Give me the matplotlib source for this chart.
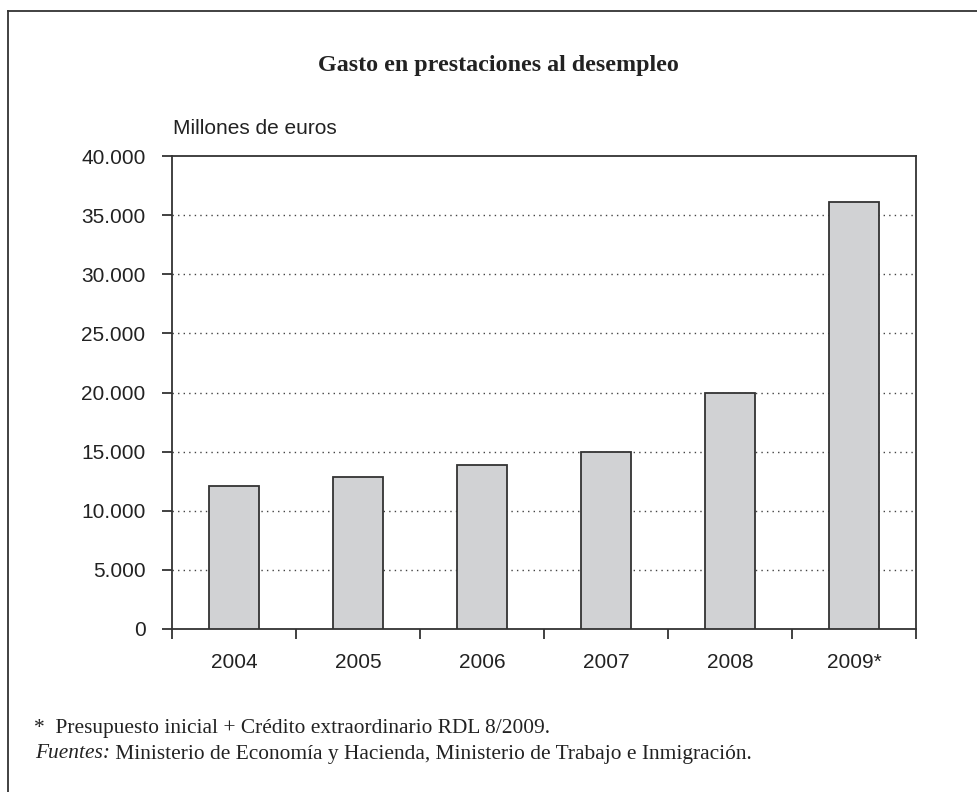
import matplotlib
matplotlib.use("Agg")
import matplotlib.pyplot as plt
from matplotlib.lines import Line2D
from matplotlib.ticker import FuncFormatter
import numpy as np

categories = ["2004", "2005", "2006", "2007", "2008", "2009*"]
values = [12100, 12850, 13850, 14950, 20000, 36100]
ytick_values = [0, 5000, 10000, 15000, 20000, 25000, 30000, 35000, 40000]

title = "Gasto en prestaciones al desempleo"
unit_label = "Millones de euros"
note1 = "*  Presupuesto inicial + Crédito extraordinario RDL 8/2009."
note2_italic = "Fuentes:"
note2_rest = " Ministerio de Economía y Hacienda, Ministerio de Trabajo e Inmigración."

W, H = 977, 792
fig = plt.figure(figsize=(W / 100, H / 100), dpi=100)
fig.patch.set_facecolor("white")

axc = "#333333"
ax = fig.add_axes([172 / W, 1 - 629 / H, (916 - 172) / W, (629 - 156) / H])
x = np.arange(len(categories))
ax.bar(x, values, width=0.4, color="#d1d2d4", edgecolor=axc, linewidth=1.3, zorder=3)
ax.set_xlim(-0.5, len(categories) - 0.5)
ax.set_ylim(0, 40000)
ax.set_yticks(ytick_values)
ax.yaxis.set_major_formatter(FuncFormatter(lambda v, p: f"{int(v):,}".replace(",", ".")))
ax.set_xticks(x)
ax.set_xticklabels(categories)
ax.set_xticks(np.arange(-0.5, len(categories)), minor=True)
ax.tick_params(axis="x", which="major", length=0, pad=17, labelsize=15, labelcolor="#222222")
ax.tick_params(axis="x", which="minor", length=7, width=1.3, color=axc, direction="out")
ax.tick_params(axis="y", length=7, width=1.3, color=axc, direction="out", pad=12,
               labelsize=15, labelcolor="#222222")
for lab in ax.get_xticklabels() + ax.get_yticklabels():
    lab.set_family("Liberation Sans")
for s in ax.spines.values():
    s.set_color(axc)
    s.set_linewidth(1.3)
for v in ytick_values[1:-1]:
    ax.axhline(v, color="#444444", linestyle=(0, (1, 3)), linewidth=1.0, zorder=1)

fig.text(498 / W, 1 - 65 / H, title, ha="center", va="center", fontsize=17.3,
         fontweight="bold", family="Liberation Serif", color="#222222")
fig.text(173 / W, 1 - 129 / H, unit_label, ha="left", va="center", fontsize=15,
         family="Liberation Sans", color="#222222")
fig.text(34 / W, 1 - 728 / H, note1, ha="left", va="center", fontsize=15.4,
         family="Liberation Serif", color="#222222")
t = fig.text(35 / W, 1 - 754 / H, note2_italic, ha="left", va="center", fontsize=15.4,
             family="Liberation Serif", style="italic", color="#222222")
fig.canvas.draw()
bb = t.get_window_extent()
fig.text(bb.x1 / W, 1 - 754 / H, note2_rest, ha="left", va="center", fontsize=15.4,
         family="Liberation Serif", color="#222222")

fig.add_artist(Line2D([8 / W, 1], [1 - 11 / H, 1 - 11 / H], color=axc, linewidth=1.3,
                      transform=fig.transFigure))
fig.add_artist(Line2D([8 / W, 8 / W], [1 - 11 / H, 0], color=axc, linewidth=1.3,
                      transform=fig.transFigure))

fig.savefig("out.png", dpi=100)
